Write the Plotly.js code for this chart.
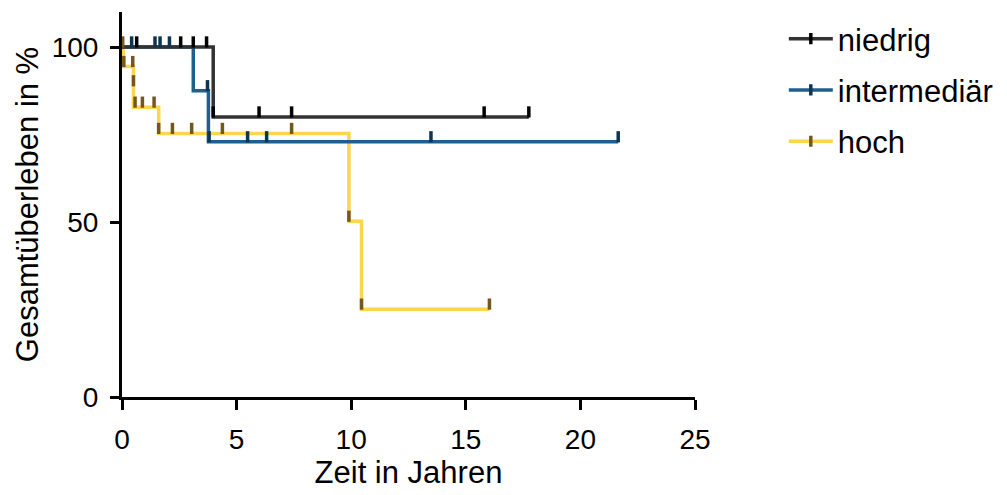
<!DOCTYPE html>
<html>
<head>
<meta charset="utf-8">
<script src="https://cdn.plot.ly/plotly-3.0.1.min.js"></script>
<style>html,body{margin:0;padding:0;background:#fff;}#chart{width:1007px;height:495px;}</style>
</head>
<body>
<div id="chart"></div>
<script>
// Group names
const groupNames = ["niedrig", "intermediär", "hoch"];

// Step curves (time in years, survival in %)
const niedrigTime = [0, 3.98, 17.75];
const niedrigSurv = [100, 80, 80];
const intermedTime = [0, 3.11, 3.77, 21.65];
const intermedSurv = [100, 87.5, 72.9, 72.9];
const hochTime = [0, 0.05, 0.5, 0.5, 1.6, 9.9, 10.45, 16.03];
const hochSurv = [100, 94.4, 88.9, 82.8, 75.3, 50.2, 25.1, 25.1];

// Censored observations
const niedrigCensTime = [0.64, 2.56, 3.11, 3.69, 3.98, 5.98, 7.4, 15.8, 17.75];
const niedrigCensSurv = [100, 100, 100, 100, 80, 80, 80, 80, 80];
const intermedCensTime = [0.42, 1.44, 1.66, 2.07, 3.73, 3.8, 5.48, 6.31, 13.48, 21.65];
const intermedCensSurv = [100, 100, 100, 100, 87.5, 72.9, 72.9, 72.9, 72.9, 72.9];
const hochCensTime = [0.03, 0.08, 0.47, 0.5, 0.57, 0.89, 1.40, 1.6, 2.2, 3.04, 4.38, 7.4, 9.9, 10.45, 16.03];
const hochCensSurv = [100, 94.4, 94.4, 88.9, 82.8, 82.8, 82.8, 75.3, 75.3, 75.3, 75.3, 75.3, 50.2, 25.1, 25.1];

// Axis ticks
const xTicks = [0, 5, 10, 15, 20, 25];
const yTicks = [0, 50, 100];

const lineColors = ["#333333", "#1f5f8e", "#ffd44f"];
const censColors = ["#000000", "#0e3550", "#76561c"];

const curves = [
  [niedrigTime, niedrigSurv, niedrigCensTime, niedrigCensSurv],
  [intermedTime, intermedSurv, intermedCensTime, intermedCensSurv],
  [hochTime, hochSurv, hochCensTime, hochCensSurv]
];

const traces = [];
[2, 1, 0].forEach(i => {
  const c = curves[i];
  traces.push({
    x: c[0], y: c[1], type: "scatter", mode: "lines",
    line: {shape: "hv", color: lineColors[i], width: 3.5},
    showlegend: false, hoverinfo: "skip"
  });
});
[2, 1, 0].forEach(i => {
  const c = curves[i];
  traces.push({
    x: c[2], y: c[3], type: "scatter", mode: "markers", yaxis: "y2",
    marker: {symbol: "line-ns", size: 8, color: censColors[i], line: {color: censColors[i], width: 3.5}},
    showlegend: false, hoverinfo: "skip"
  });
});
[0, 1, 2].forEach(i => {
  traces.push({
    x: [null], y: [null], type: "scatter", mode: "lines+markers", name: groupNames[i],
    line: {color: lineColors[i], width: 3.5},
    marker: {symbol: "line-ns", size: 8, color: censColors[i], line: {color: censColors[i], width: 3.5}},
    legendgroup: "g" + i
  });
});

const fontFam = "Arial, 'Liberation Sans', sans-serif";

const layout = {
  width: 1007, height: 495,
  margin: {l: 122, r: 312, t: 12, b: 98, autoexpand: false},
  paper_bgcolor: "#ffffff", plot_bgcolor: "#ffffff",
  font: {family: fontFam, color: "#000000"},
  showlegend: true,
  legend: {
    x: 1.155, xanchor: "left", y: 1.0, yanchor: "top",
    font: {family: fontFam, size: 31, color: "#000"},
    itemwidth: 44,
    tracegroupgap: 8, bgcolor: "rgba(0,0,0,0)"
  },
  xaxis: {
    range: [0, 25], tickvals: xTicks, ticktext: xTicks.map(String),
    showline: true, linecolor: "#000", linewidth: 3,
    ticks: "outside", ticklen: 10, tickwidth: 3, tickcolor: "#000",
    showgrid: false, zeroline: false,
    tickfont: {family: fontFam, size: 28, color: "#000"},
    ticklabelstandoff: 5,
    title: {text: "Zeit in Jahren", font: {family: fontFam, size: 31, color: "#000"}, standoff: 8}
  },
  yaxis: {
    range: [0, 110], tickvals: yTicks, ticktext: yTicks.map(String),
    showline: true, linecolor: "#000", linewidth: 3,
    ticks: "outside", ticklen: 9, tickwidth: 3, tickcolor: "#000",
    showgrid: false, zeroline: false,
    tickfont: {family: fontFam, size: 28, color: "#000"},
    ticklabelstandoff: 6,
    title: {text: "Gesamtüberleben in %", font: {family: fontFam, size: 31, color: "#000"}, standoff: 4}
  },
  yaxis2: {
    overlaying: "y", range: [-1.45, 108.55], visible: false, showgrid: false, zeroline: false
  }
};

Plotly.newPlot("chart", traces, layout, {displayModeBar: false, staticPlot: true});
</script>
</body>
</html>
